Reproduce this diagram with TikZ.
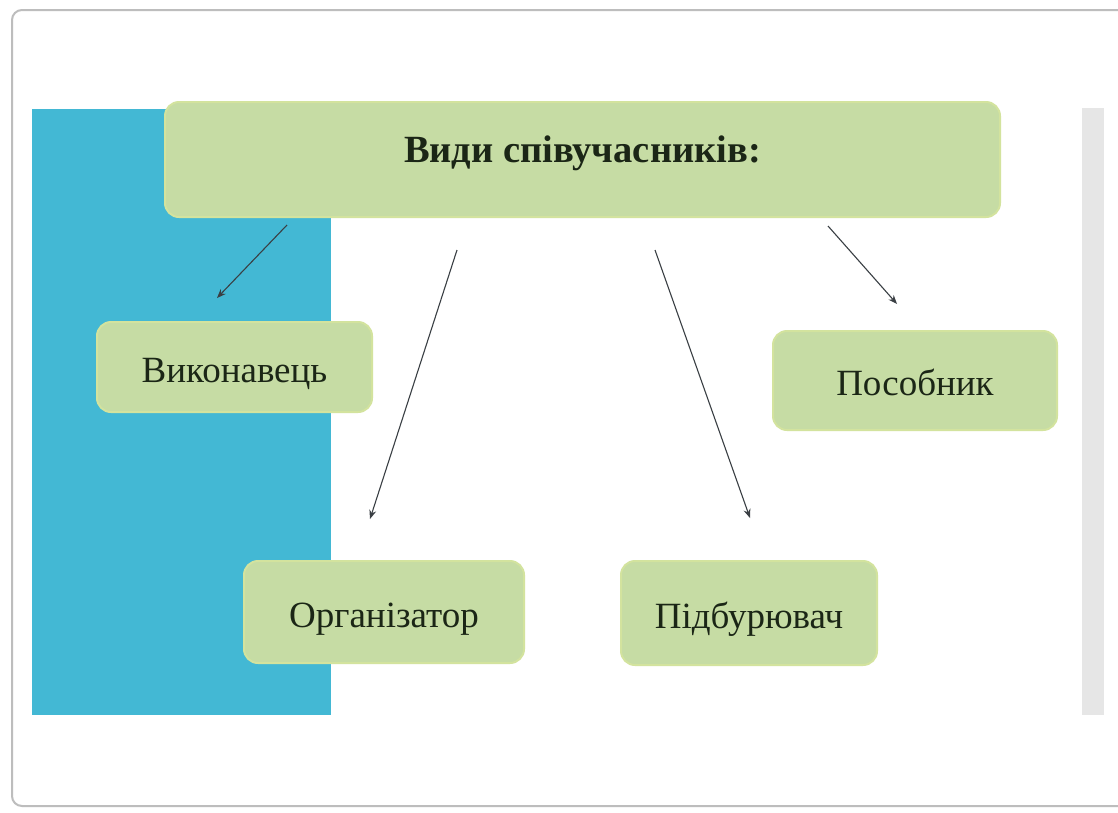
\documentclass[tikz,border=0pt]{standalone}
\usepackage{fontspec}
\setmainfont{Liberation Serif}
\usetikzlibrary{arrows.meta}
\definecolor{panelblue}{HTML}{43B8D4}
\definecolor{boxfill}{HTML}{C6DCA4}
\definecolor{boxedge}{HTML}{D3E39E}
\definecolor{labelink}{HTML}{1B2616}
\definecolor{arrowink}{HTML}{3A3F44}
\definecolor{framegrey}{HTML}{BDBDBD}
\definecolor{sidebar}{HTML}{E6E6E6}
\tikzset{
  term/.style={rectangle, rounded corners=14pt, fill=boxfill, draw=boxedge,
    line width=2pt, text=labelink, font=\fontsize{37}{40}\selectfont,
    inner sep=0pt, text height=36pt, text depth=6pt},
  headterm/.style={term, font=\bfseries\fontsize{38.5}{42}\selectfont,
    text height=28pt, text depth=23pt},
  link/.style={draw=arrowink, line width=1.1pt,
    -{Stealth[length=9pt,width=7pt]}}
}
\begin{document}
\begin{tikzpicture}[x=1pt,y=-1pt]
  \useasboundingbox (0,0) rectangle (1118,812);
  % slide frame
  \fill[white] (0,0) rectangle (1118,812);
  \draw[framegrey, line width=2pt, rounded corners=10pt]
    (12,10) -- (1140,10) -- (1140,806) -- (12,806) -- cycle;
  % coloured panels
  \fill[panelblue] (32,109) rectangle (331,715);
  \fill[sidebar] (1082,108) rectangle (1104,715);
  % boxes
  \node[headterm, minimum width=835pt, minimum height=115pt] (title)
    at (582.5,159.5) {Види співучасників:};
  \node[term, minimum width=275pt, minimum height=90pt] (vyk) at (234.5,367) {Виконавець};
  \node[term, minimum width=284pt, minimum height=99pt] (pos) at (915,380.5) {Пособник};
  \node[term, minimum width=280pt, minimum height=102pt] (org) at (384,612) {Організатор};
  \node[term, minimum width=256pt, minimum height=104pt] (pid) at (749,613) {Підбурювач};
  % arrow ends
  \coordinate (a1s) at (287,225);  \coordinate (a1e) at (217,298);
  \coordinate (a2s) at (457,250);  \coordinate (a2e) at (370,519);
  \coordinate (a3s) at (655,250);  \coordinate (a3e) at (750,518);
  \coordinate (a4s) at (828,226);  \coordinate (a4e) at (897,304);
  \draw[link] (a1s) -- (a1e);
  \draw[link] (a2s) -- (a2e);
  \draw[link] (a3s) -- (a3e);
  \draw[link] (a4s) -- (a4e);
\end{tikzpicture}
\end{document}
